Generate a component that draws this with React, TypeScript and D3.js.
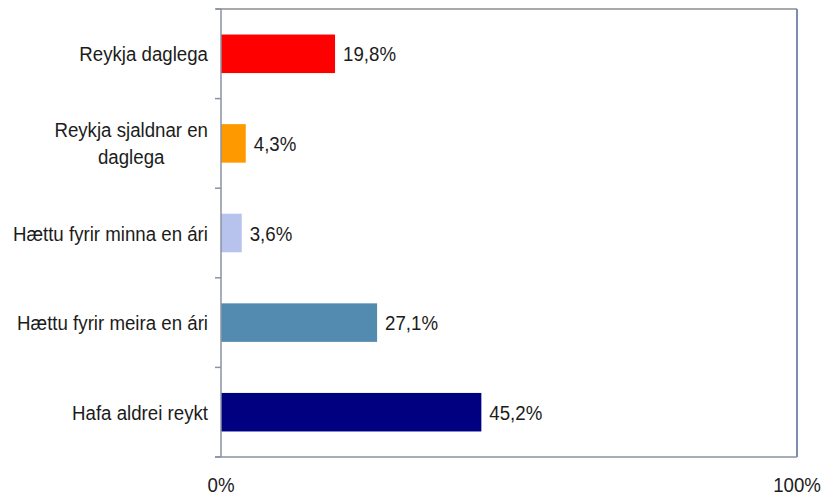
import React, { useEffect, useRef } from "react";
import * as d3 from "d3";

// survey answers, share of respondents (%)
const categories = [
  "Reykja daglega",
  "Reykja sjaldnar en daglega",
  "Hættu fyrir minna en ári",
  "Hættu fyrir meira en ári",
  "Hafa aldrei reykt",
];
// how the axis labels wrap
const categoryLines = [
  ["Reykja daglega"],
  ["Reykja sjaldnar en", "daglega"],
  ["Hættu fyrir minna en ári"],
  ["Hættu fyrir meira en ári"],
  ["Hafa aldrei reykt"],
];
const values = [19.8, 4.3, 3.6, 27.1, 45.2];
const barColors = ["#ff0000", "#ff9900", "#b7c3ec", "#538bb0", "#000080"];
const xTicks = [0, 100];

const App = () => {
  const svgRef = useRef<SVGSVGElement>(null);

  useEffect(() => {
    const width = 830,
      height = 496;
    const margin = { top: 9, right: 33, bottom: 39, left: 221 };
    const font = "'Liberation Sans', Arial, sans-serif";
    const fontSize = 21;
    const squeeze = 0.89; // text in the original is a bit narrow
    const textColor = "#1c1c1c";

    const svg = d3.select(svgRef.current);
    svg.selectAll("*").remove();
    svg.attr("width", width).attr("height", height);

    const x = d3.scaleLinear([0, 100], [margin.left, width - margin.right]);
    const y = d3
      .scaleBand<string>()
      .domain(categories)
      .range([margin.top, height - margin.bottom])
      .padding(0);
    const barH = y.bandwidth() * 0.43;
    const fmt = (v: number) => d3.format(".1f")(v).replace(".", ",") + "%";

    // bars
    svg
      .append("g")
      .selectAll("rect")
      .data(values)
      .join("rect")
      .attr("x", x(0))
      .attr("y", (d, i) => y(categories[i])! + (y.bandwidth() - barH) / 2)
      .attr("width", (d) => x(d) - x(0))
      .attr("height", barH)
      .attr("fill", (d, i) => barColors[i]);

    // plot frame
    const [x0, x1] = x.range();
    const [y0, y1] = y.range();
    svg.append("line").attr("x1", x0 - 5).attr("x2", x1).attr("y1", y0).attr("y2", y0)
      .attr("stroke", "#8c8c8c").attr("stroke-width", 1.5);
    svg.append("line").attr("x1", x1).attr("x2", x1).attr("y1", y0).attr("y2", y1)
      .attr("stroke", "#7f8bb0").attr("stroke-width", 2);
    svg.append("line").attr("x1", x0 - 6).attr("x2", x1).attr("y1", y1).attr("y2", y1)
      .attr("stroke", "#8a92a5").attr("stroke-width", 1.5);
    svg.append("line").attr("x1", x0).attr("x2", x0).attr("y1", y0).attr("y2", y1)
      .attr("stroke", "#8a92a5").attr("stroke-width", 1.5);

    // category boundary ticks
    const bounds = categories.map((c) => y(c)!).concat([y1]);
    svg
      .append("g")
      .selectAll("line")
      .data(bounds)
      .join("line")
      .attr("x1", x0 - 6)
      .attr("x2", x0)
      .attr("y1", (d) => d)
      .attr("y2", (d) => d)
      .attr("stroke", "#8a92a5")
      .attr("stroke-width", 1.5);

    // value labels
    svg
      .append("g")
      .selectAll("text")
      .data(values)
      .join("text")
      .attr(
        "transform",
        (d, i) =>
          `translate(${x(d) + 8},${y(categories[i])! + y.bandwidth() / 2 + 7.5}) scale(${squeeze},1)`
      )
      .attr("font-family", font)
      .attr("font-size", fontSize)
      .attr("fill", textColor)
      .text((d) => fmt(d));

    // category labels, centred lines, block right-aligned
    const lineGap = 27;
    categories.forEach((c, i) => {
      const lines = categoryLines[i];
      const cy = y(c)! + y.bandwidth() / 2 + 7.5 - ((lines.length - 1) * lineGap) / 2;
      const g = svg
        .append("g")
        .attr("transform", `translate(${x0 - 13},${cy}) scale(${squeeze},1)`);
      const texts = g
        .selectAll("text")
        .data(lines)
        .join("text")
        .attr("y", (d, j) => (j * lineGap))
        .attr("font-family", font)
        .attr("font-size", fontSize)
        .attr("fill", textColor)
        .attr("text-anchor", "middle")
        .text((d) => d);
      let maxW = 0;
      texts.each(function () {
        maxW = Math.max(maxW, (this as SVGTextElement).getComputedTextLength());
      });
      texts.attr("x", -maxW / 2);
    });

    // x axis labels
    svg
      .append("g")
      .selectAll("text")
      .data(xTicks)
      .join("text")
      .attr("transform", (d) => `translate(${x(d)},${height - 4}) scale(${squeeze},1)`)
      .attr("text-anchor", "middle")
      .attr("font-family", font)
      .attr("font-size", fontSize)
      .attr("fill", textColor)
      .text((d) => d + "%");
  }, []);

  return (
    <svg
      ref={svgRef}
      style={{ position: "absolute", left: 0, top: 0, display: "block", background: "#fff" }}
    ></svg>
  );
};

export default App;
